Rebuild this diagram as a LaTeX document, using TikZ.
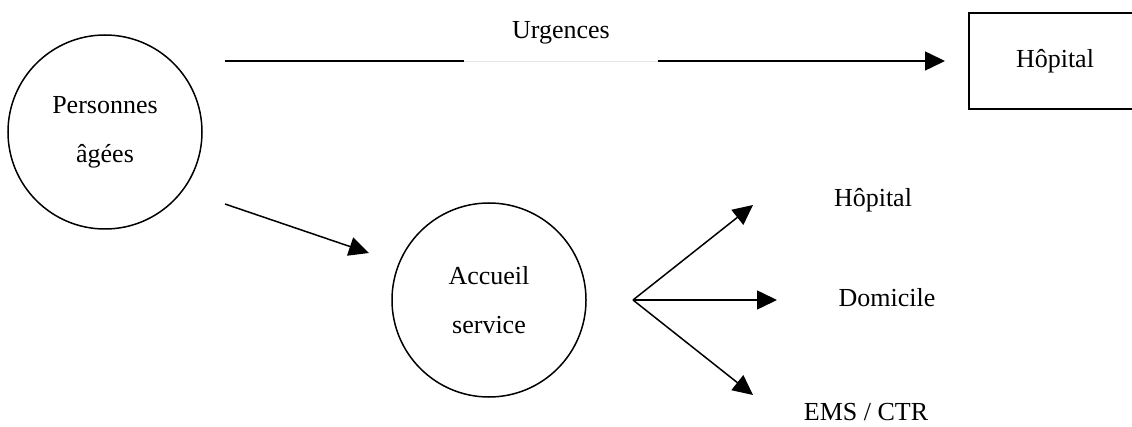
\documentclass[tikz,border=0pt]{standalone}
\usepackage{fontspec}
\setmainfont{Liberation Serif}
\usepackage{tikz}
\usetikzlibrary{arrows.meta,positioning}

\begin{document}
\begin{tikzpicture}[x=1pt,y=-1pt,
    every node/.style={font=\fontsize{26}{49}\selectfont},
    flow/.style={-{Triangle[length=20pt,width=19pt]},line width=1.5pt},
    bubble/.style={draw,circle,line width=1.5pt,minimum size=194pt,align=center,inner sep=0pt},
    ]
    \useasboundingbox (0,0) rectangle (1132,427);
    \path
        (105,132)   node[bubble] (pa){Personnes\\âgées}
        (489,300)   node[bubble] (acc){Accueil\\service}
        (1055,61)   node[draw,rectangle,line width=1.5pt,minimum width=172pt,minimum height=96pt] (hop){Hôpital}
        (561,33)    node[minimum width=193pt,inner sep=0pt] (urg){Urgences}
        (873,200)   node (hop2){Hôpital}
        (887,298)   node (dom){Domicile}
        (866,412)   node (ems){EMS / CTR}
        ;
    % free ends of the connectors
    \coordinate (u0) at (225,61);
    \coordinate (u1) at (945,61);
    \coordinate (a0) at (225,204);
    \coordinate (a1) at (369,253);
    \coordinate (fk) at (633,300);
    \coordinate (h1) at (753,205);
    \coordinate (d1) at (777,300);
    \coordinate (e1) at (753,395);
    \draw [line width=1.5pt] (u0)--(urg.west |- u0);
    \draw [gray!20,line width=0.6pt] (urg.west |- u0)--(urg.east |- u0);
    \draw [flow] (urg.east |- u0)--(u1);
    \draw [flow] (a0)--(a1);
    \draw [flow] (fk)--(h1);
    \draw [flow] (fk)--(d1);
    \draw [flow] (fk)--(e1);
\end{tikzpicture}
\end{document}
